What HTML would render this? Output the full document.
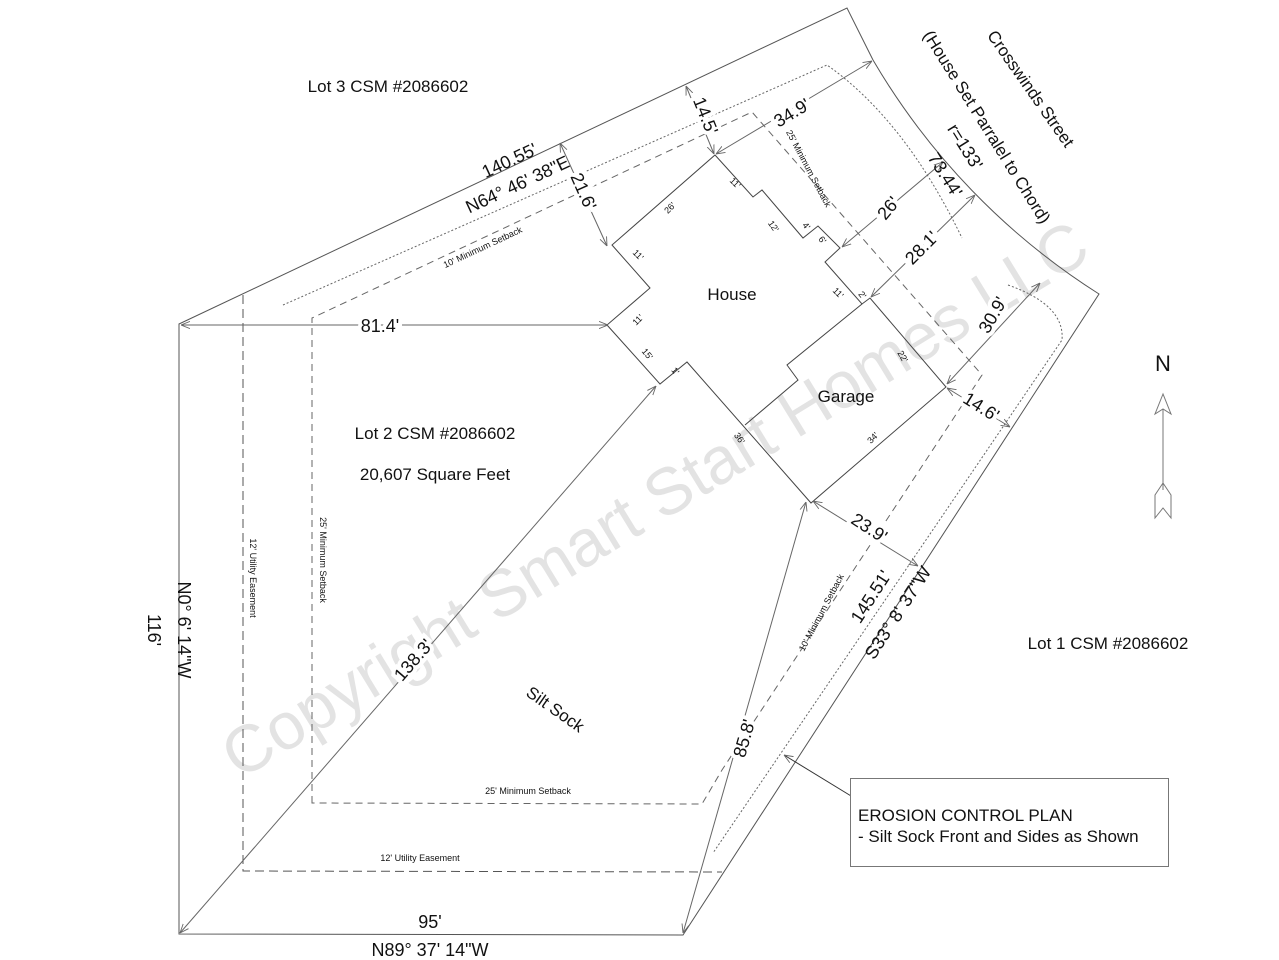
<!DOCTYPE html>
<html><head><meta charset="utf-8"><style>
html,body{margin:0;padding:0;background:#fff;}
svg{display:block;}
text{font-family:"Liberation Sans",sans-serif;fill:#111;}
.s{font-size:9px;}
.m{font-size:17px;}
.d{font-size:18px;}
</style></head><body>
<svg width="1279" height="960" viewBox="0 0 1279 960" xmlns="http://www.w3.org/2000/svg">
<defs>
<marker id="a" viewBox="0 0 10 10" refX="10" refY="5" markerWidth="9" markerHeight="9" orient="auto-start-reverse" markerUnits="userSpaceOnUse">
<path d="M0,1 L10,5 L0,9" fill="none" stroke="#666" stroke-width="1"/></marker>
</defs>
<!-- watermark -->
<text x="655" y="522" transform="rotate(-31.5 655 500)" text-anchor="middle" style="font-size:66px;fill:#e3e3e3">Copyright Smart Start Homes LLC</text>

<!-- boundary -->
<path d="M179,324 L847,8 L873,60 A690,690 0 0 0 1099,294 L683,935 L179,934 Z" fill="none" stroke="#555" stroke-width="1"/>

<!-- utility easement -->
<path d="M243,295 L243,871 L722,872" fill="none" stroke="#555" stroke-dasharray="9,5"/>
<!-- setbacks dashed -->
<path d="M312,803 L312,318 L752,112 L982,375 L722,770 L702,804 Z" fill="none" stroke="#666" stroke-dasharray="7,5"/>
<!-- silt sock dotted -->
<path d="M283,305 L827,65 Q905,120 962,238" fill="none" stroke="#666" stroke-dasharray="2,2"/>
<path d="M1008,285 Q1065,305 1062,340 L713,853" fill="none" stroke="#666" stroke-dasharray="2,2"/>

<!-- house -->
<path d="M715,155 L753,197 L762,190 L803,238 L818,226 L840,248 L825,262 L862,304 L870,298 L946,387 L811,503 L687,362 L660,384 L607,325 L650,288 L612,245 Z" fill="none" stroke="#444" stroke-width="1"/>
<path d="M862,304 L787,365 L798,380 L745,425" fill="none" stroke="#444"/>

<!-- dimension lines -->
<g stroke="#666" stroke-width="1" fill="none">
<line x1="181" y1="325" x2="608" y2="325" marker-start="url(#a)" marker-end="url(#a)"/>
<line x1="686" y1="86" x2="714" y2="154" marker-start="url(#a)" marker-end="url(#a)"/>
<line x1="716" y1="154" x2="872" y2="61" marker-start="url(#a)" marker-end="url(#a)"/>
<line x1="560" y1="143" x2="607" y2="246" marker-start="url(#a)" marker-end="url(#a)"/>
<line x1="842" y1="247" x2="943" y2="162" marker-start="url(#a)" marker-end="url(#a)"/>
<line x1="871" y1="297" x2="975" y2="195" marker-start="url(#a)" marker-end="url(#a)"/>
<line x1="947" y1="384" x2="1040" y2="283" marker-start="url(#a)" marker-end="url(#a)"/>
<line x1="947" y1="388" x2="1010" y2="427" marker-start="url(#a)" marker-end="url(#a)"/>
<line x1="813" y1="501" x2="918" y2="566" marker-start="url(#a)" marker-end="url(#a)"/>
<line x1="683" y1="933" x2="806" y2="502" marker-start="url(#a)" marker-end="url(#a)"/>
<line x1="180" y1="933" x2="656" y2="386" marker-start="url(#a)" marker-end="url(#a)"/>
<line x1="856" y1="799" x2="784" y2="755" marker-end="url(#a)" stroke="#333"/>
</g>

<!-- dimension labels -->
<g class="d">
<text x="380" y="332" text-anchor="middle" style="paint-order:stroke;stroke:#fff;stroke-width:8px">81.4'</text>
<text transform="translate(700,118) rotate(68)" text-anchor="middle" style="paint-order:stroke;stroke:#fff;stroke-width:8px">14.5'</text>
<text transform="translate(795,118) rotate(-31)" text-anchor="middle" style="paint-order:stroke;stroke:#fff;stroke-width:8px">34.9'</text>
<text transform="translate(578,194) rotate(66)" text-anchor="middle" style="paint-order:stroke;stroke:#fff;stroke-width:8px">21.6'</text>
<text transform="translate(893,212) rotate(-50)" text-anchor="middle" style="paint-order:stroke;stroke:#fff;stroke-width:8px">26'</text>
<text transform="translate(940,178) rotate(58)" text-anchor="middle">73.44'</text>
<text transform="translate(960,150) rotate(58)" text-anchor="middle">r=133'</text>
<text transform="translate(926,252) rotate(-45)" text-anchor="middle" style="paint-order:stroke;stroke:#fff;stroke-width:8px">28.1'</text>
<text transform="translate(998,318) rotate(-60)" text-anchor="middle" style="paint-order:stroke;stroke:#fff;stroke-width:8px">30.9'</text>
<text transform="translate(978,412) rotate(32)" text-anchor="middle" style="paint-order:stroke;stroke:#fff;stroke-width:8px">14.6'</text>
<text transform="translate(866,533) rotate(33)" text-anchor="middle" style="paint-order:stroke;stroke:#fff;stroke-width:8px">23.9'</text>
<text transform="translate(750,740) rotate(-74)" text-anchor="middle" style="paint-order:stroke;stroke:#fff;stroke-width:8px">85.8'</text>
<text transform="translate(418,664) rotate(-49)" text-anchor="middle" style="paint-order:stroke;stroke:#fff;stroke-width:8px">138.3'</text>
<text transform="translate(512,166) rotate(-25)" text-anchor="middle">140.55'</text>
<text transform="translate(520,190) rotate(-25)" text-anchor="middle">N64° 46' 38"E</text>
<text transform="translate(876,600) rotate(-57)" text-anchor="middle">145.51'</text>
<text transform="translate(903,616) rotate(-57)" text-anchor="middle">S33° 8' 37"W</text>
<text transform="translate(148,630) rotate(90)" text-anchor="middle">116'</text>
<text transform="translate(178,630) rotate(90)" text-anchor="middle">N0° 6' 14"W</text>
<text x="430" y="928" text-anchor="middle">95'</text>
<text x="430" y="956" text-anchor="middle">N89° 37' 14"W</text>
</g>

<!-- small labels -->
<g class="s">
<text transform="translate(733,185) rotate(45)" text-anchor="middle">11'</text>
<text transform="translate(672,210) rotate(-45)" text-anchor="middle">26'</text>
<text transform="translate(771,228) rotate(55)" text-anchor="middle">12'</text>
<text transform="translate(804,228) rotate(50)" text-anchor="middle">4'</text>
<text transform="translate(820,242) rotate(50)" text-anchor="middle">6'</text>
<text transform="translate(636,257) rotate(45)" text-anchor="middle">11'</text>
<text transform="translate(640,322) rotate(-45)" text-anchor="middle">11'</text>
<text transform="translate(645,356) rotate(50)" text-anchor="middle">15'</text>
<text transform="translate(673,373) rotate(50)" text-anchor="middle">1'</text>
<text transform="translate(836,295) rotate(45)" text-anchor="middle">11'</text>
<text transform="translate(860,297) rotate(50)" text-anchor="middle">2'</text>
<text transform="translate(900,358) rotate(60)" text-anchor="middle">22'</text>
<text transform="translate(875,440) rotate(-45)" text-anchor="middle">34'</text>
<text transform="translate(737,440) rotate(55)" text-anchor="middle">36'</text>
<text transform="translate(484,250) rotate(-25)" text-anchor="middle">10' Minimum Setback</text>
<text transform="translate(806,170) rotate(62)" text-anchor="middle">25' Minimum Setback</text>
<text transform="translate(320,560) rotate(90)" text-anchor="middle">25' Minimum Setback</text>
<text transform="translate(250,578) rotate(90)" text-anchor="middle">12' Utility Easement</text>
<text x="528" y="794" text-anchor="middle">25' Minimum Setback</text>
<text x="420" y="861" text-anchor="middle">12' Utility Easement</text>
<text transform="translate(824,614) rotate(-62)" text-anchor="middle">10' Minimum Setback</text>
</g>

<g class="m">
<text x="732" y="300" text-anchor="middle">House</text>
<text x="846" y="402" text-anchor="middle">Garage</text>
<text x="435" y="439" text-anchor="middle">Lot 2 CSM #2086602</text>
<text x="435" y="480" text-anchor="middle">20,607 Square Feet</text>
<text x="388" y="92" text-anchor="middle">Lot 3 CSM #2086602</text>
<text x="1108" y="649" text-anchor="middle">Lot 1 CSM #2086602</text>
<text transform="translate(1026,92) rotate(55)" text-anchor="middle">Crosswinds Street</text>
<text transform="translate(982,130) rotate(58)" text-anchor="middle">(House Set Parralel to Chord)</text>
<text transform="translate(552,714) rotate(35)" text-anchor="middle">Silt Sock</text>
<text x="1163" y="371" text-anchor="middle" style="font-size:22px">N</text>
</g>

<!-- erosion box -->
<rect x="850.5" y="778.5" width="318" height="88" fill="#fff" stroke="#777"/>
<text x="858" y="821" class="m">EROSION CONTROL PLAN</text>
<text x="858" y="842" class="m">- Silt Sock Front and Sides as Shown</text>

<!-- north arrow -->
<g stroke="#777" fill="none">
<line x1="1163" y1="395" x2="1163" y2="490"/>
<path d="M1163,394 L1155,414 L1163,409 L1171,414 Z" fill="#fff"/>
<path d="M1163,483 L1155,495 L1155,518 L1163,508 L1171,518 L1171,495 Z"/>
</g>
</svg>
</body></html>
